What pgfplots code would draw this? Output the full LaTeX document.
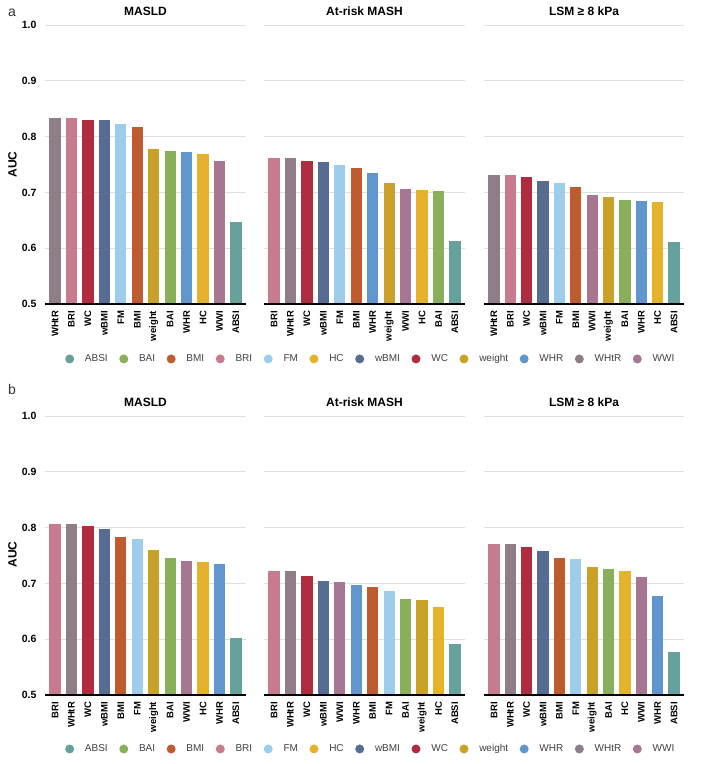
\documentclass[border=0pt]{standalone}
\usepackage{fontspec}
\setmainfont{Liberation Sans}
\usepackage{pgfplots}
\pgfplotsset{compat=1.18}
\definecolor{cABSI}{HTML}{66A19B}
\definecolor{cBAI}{HTML}{8AAF5B}
\definecolor{cBMI}{HTML}{BE5C30}
\definecolor{cBRI}{HTML}{C77B8E}
\definecolor{cFM}{HTML}{9DCDEA}
\definecolor{cHC}{HTML}{E5B22C}
\definecolor{cwBMI}{HTML}{566C93}
\definecolor{cWC}{HTML}{AF2C3F}
\definecolor{cweight}{HTML}{C9A128}
\definecolor{cWHR}{HTML}{6096CD}
\definecolor{cWHtR}{HTML}{8F7D87}
\definecolor{cWWI}{HTML}{A77693}
\pgfplotsset{
  myaxis/.style={
    scale only axis, width=201pt, height=279pt, anchor=south west,
    ymin=0.5, ymax=1.0, xmin=-0.61, xmax=11.61,
    ytick={0.5,0.6,0.7,0.8,0.9,1.0},
    xtick={0,...,11},
    ymajorgrids, grid style={draw=black!12, line width=0.7pt},
    axis line style={draw=none},
    major tick length=0pt, tick style={draw=none},
    /pgf/number format/assume math mode=true,
    xticklabel style={font=\bfseries\fontsize{9.5}{10}\selectfont, yshift=-3.5pt, rotate=90, anchor=east},
    yticklabel style={font=\bfseries\fontsize{10.5}{12}\selectfont, xshift=-5pt,
      /pgf/number format/.cd, fixed, fixed zerofill, precision=1},
    extra description/.code={\draw[line width=1.1pt, black] (0,0) -- (1,0);},
  },
  noylab/.style={yticklabels={,,,,,}},
  mybar/.style={ybar, draw=none, bar width=11.3pt, forget plot},
  mylegend/.style={
    legend columns=12,
    legend image code/.code={\fill[##1, draw=none] (0pt,0pt) circle (4.5pt);},
    legend style={at={(0.531,#1)}, anchor=center, draw=none, fill=none,
      font=\fontsize{10}{12}\selectfont, text=black!75,
      /tikz/every odd column/.append style={column sep=8.8pt},
      /tikz/every even column/.append style={column sep=9.5pt}},
  },
}
\begin{document}
\begin{tikzpicture}
\useasboundingbox (0,0) rectangle (710pt,764pt);
% panel labels
\node[anchor=base west, inner sep=0pt, font=\fontsize{14}{16}\selectfont, text=black!80] at (8pt,747pt) {a};
\node[anchor=base west, inner sep=0pt, font=\fontsize{14}{16}\selectfont, text=black!80] at (8pt,369pt) {b};
% titles
\foreach \yy in {748pt,357.5pt}{
\node[anchor=base, inner sep=0pt, font=\bfseries\fontsize{12}{14}\selectfont] at (145.5pt,\yy) {MASLD};
\node[anchor=base, inner sep=0pt, font=\bfseries\fontsize{12}{14}\selectfont] at (364.5pt,\yy) {At-risk MASH};
\node[anchor=base, inner sep=0pt, font=\bfseries\fontsize{12}{14}\selectfont] at (584pt,\yy) {LSM ≥ 8 kPa};
}
\node[rotate=90, font=\bfseries\fontsize{12}{14}\selectfont] at (12.5pt,599.5pt) {AUC};
\node[rotate=90, font=\bfseries\fontsize{12}{14}\selectfont] at (12.5pt,209.5pt) {AUC};

% ===== Panel a =====
\begin{axis}[myaxis, at={(45pt,460pt)},
  xticklabels={WHtR,BRI,WC,wBMI,FM,BMI,weight,BAI,WHR,HC,WWI,ABSI}]
\addplot[mybar, fill=cWHtR]   coordinates {(0,0.834)};
\addplot[mybar, fill=cBRI]    coordinates {(1,0.834)};
\addplot[mybar, fill=cWC]     coordinates {(2,0.830)};
\addplot[mybar, fill=cwBMI]   coordinates {(3,0.830)};
\addplot[mybar, fill=cFM]     coordinates {(4,0.823)};
\addplot[mybar, fill=cBMI]    coordinates {(5,0.817)};
\addplot[mybar, fill=cweight] coordinates {(6,0.778)};
\addplot[mybar, fill=cBAI]    coordinates {(7,0.775)};
\addplot[mybar, fill=cWHR]    coordinates {(8,0.773)};
\addplot[mybar, fill=cHC]     coordinates {(9,0.769)};
\addplot[mybar, fill=cWWI]    coordinates {(10,0.757)};
\addplot[mybar, fill=cABSI]   coordinates {(11,0.647)};
\end{axis}

\begin{axis}[myaxis, noylab, at={(264pt,460pt)}, mylegend=-0.197,
  xticklabels={BRI,WHtR,WC,wBMI,FM,BMI,WHR,weight,WWI,HC,BAI,ABSI}]
\addlegendimage{fill=cABSI}
\addlegendimage{fill=cBAI}
\addlegendimage{fill=cBMI}
\addlegendimage{fill=cBRI}
\addlegendimage{fill=cFM}
\addlegendimage{fill=cHC}
\addlegendimage{fill=cwBMI}
\addlegendimage{fill=cWC}
\addlegendimage{fill=cweight}
\addlegendimage{fill=cWHR}
\addlegendimage{fill=cWHtR}
\addlegendimage{fill=cWWI}
\addplot[mybar, fill=cBRI]    coordinates {(0,0.762)};
\addplot[mybar, fill=cWHtR]   coordinates {(1,0.762)};
\addplot[mybar, fill=cWC]     coordinates {(2,0.757)};
\addplot[mybar, fill=cwBMI]   coordinates {(3,0.754)};
\addplot[mybar, fill=cFM]     coordinates {(4,0.749)};
\addplot[mybar, fill=cBMI]    coordinates {(5,0.744)};
\addplot[mybar, fill=cWHR]    coordinates {(6,0.734)};
\addplot[mybar, fill=cweight] coordinates {(7,0.717)};
\addplot[mybar, fill=cWWI]    coordinates {(8,0.706)};
\addplot[mybar, fill=cHC]     coordinates {(9,0.704)};
\addplot[mybar, fill=cBAI]    coordinates {(10,0.703)};
\addplot[mybar, fill=cABSI]   coordinates {(11,0.613)};
\legend{ABSI,BAI,BMI,BRI,FM,HC,wBMI,WC,weight,WHR,WHtR,WWI}
\end{axis}

\begin{axis}[myaxis, noylab, at={(484pt,460pt)}, width=200pt,
  xticklabels={WHtR,BRI,WC,wBMI,FM,BMI,WWI,weight,BAI,WHR,HC,ABSI}]
\addplot[mybar, fill=cWHtR]   coordinates {(0,0.732)};
\addplot[mybar, fill=cBRI]    coordinates {(1,0.732)};
\addplot[mybar, fill=cWC]     coordinates {(2,0.728)};
\addplot[mybar, fill=cwBMI]   coordinates {(3,0.720)};
\addplot[mybar, fill=cFM]     coordinates {(4,0.717)};
\addplot[mybar, fill=cBMI]    coordinates {(5,0.709)};
\addplot[mybar, fill=cWWI]    coordinates {(6,0.696)};
\addplot[mybar, fill=cweight] coordinates {(7,0.691)};
\addplot[mybar, fill=cBAI]    coordinates {(8,0.686)};
\addplot[mybar, fill=cWHR]    coordinates {(9,0.685)};
\addplot[mybar, fill=cHC]     coordinates {(10,0.683)};
\addplot[mybar, fill=cABSI]   coordinates {(11,0.611)};
\end{axis}

% ===== Panel b =====
\begin{axis}[myaxis, at={(45pt,69pt)},
  xticklabels={BRI,WHtR,WC,wBMI,BMI,FM,weight,BAI,WWI,HC,WHR,ABSI}]
\addplot[mybar, fill=cBRI]    coordinates {(0,0.807)};
\addplot[mybar, fill=cWHtR]   coordinates {(1,0.807)};
\addplot[mybar, fill=cWC]     coordinates {(2,0.803)};
\addplot[mybar, fill=cwBMI]   coordinates {(3,0.797)};
\addplot[mybar, fill=cBMI]    coordinates {(4,0.783)};
\addplot[mybar, fill=cFM]     coordinates {(5,0.780)};
\addplot[mybar, fill=cweight] coordinates {(6,0.759)};
\addplot[mybar, fill=cBAI]    coordinates {(7,0.745)};
\addplot[mybar, fill=cWWI]    coordinates {(8,0.740)};
\addplot[mybar, fill=cHC]     coordinates {(9,0.739)};
\addplot[mybar, fill=cWHR]    coordinates {(10,0.735)};
\addplot[mybar, fill=cABSI]   coordinates {(11,0.603)};
\end{axis}

\begin{axis}[myaxis, noylab, at={(264pt,69pt)}, mylegend=-0.1935,
  xticklabels={BRI,WHtR,WC,wBMI,WWI,WHR,BMI,FM,BAI,weight,HC,ABSI}]
\addlegendimage{fill=cABSI}
\addlegendimage{fill=cBAI}
\addlegendimage{fill=cBMI}
\addlegendimage{fill=cBRI}
\addlegendimage{fill=cFM}
\addlegendimage{fill=cHC}
\addlegendimage{fill=cwBMI}
\addlegendimage{fill=cWC}
\addlegendimage{fill=cweight}
\addlegendimage{fill=cWHR}
\addlegendimage{fill=cWHtR}
\addlegendimage{fill=cWWI}
\addplot[mybar, fill=cBRI]    coordinates {(0,0.722)};
\addplot[mybar, fill=cWHtR]   coordinates {(1,0.722)};
\addplot[mybar, fill=cWC]     coordinates {(2,0.714)};
\addplot[mybar, fill=cwBMI]   coordinates {(3,0.705)};
\addplot[mybar, fill=cWWI]    coordinates {(4,0.702)};
\addplot[mybar, fill=cWHR]    coordinates {(5,0.698)};
\addplot[mybar, fill=cBMI]    coordinates {(6,0.694)};
\addplot[mybar, fill=cFM]     coordinates {(7,0.687)};
\addplot[mybar, fill=cBAI]    coordinates {(8,0.672)};
\addplot[mybar, fill=cweight] coordinates {(9,0.670)};
\addplot[mybar, fill=cHC]     coordinates {(10,0.658)};
\addplot[mybar, fill=cABSI]   coordinates {(11,0.592)};
\legend{ABSI,BAI,BMI,BRI,FM,HC,wBMI,WC,weight,WHR,WHtR,WWI}
\end{axis}

\begin{axis}[myaxis, noylab, at={(484pt,69pt)}, width=200pt,
  xticklabels={BRI,WHtR,WC,wBMI,BMI,FM,weight,BAI,HC,WWI,WHR,ABSI}]
\addplot[mybar, fill=cBRI]    coordinates {(0,0.770)};
\addplot[mybar, fill=cWHtR]   coordinates {(1,0.770)};
\addplot[mybar, fill=cWC]     coordinates {(2,0.766)};
\addplot[mybar, fill=cwBMI]   coordinates {(3,0.758)};
\addplot[mybar, fill=cBMI]    coordinates {(4,0.746)};
\addplot[mybar, fill=cFM]     coordinates {(5,0.744)};
\addplot[mybar, fill=cweight] coordinates {(6,0.730)};
\addplot[mybar, fill=cBAI]    coordinates {(7,0.725)};
\addplot[mybar, fill=cHC]     coordinates {(8,0.722)};
\addplot[mybar, fill=cWWI]    coordinates {(9,0.712)};
\addplot[mybar, fill=cWHR]    coordinates {(10,0.678)};
\addplot[mybar, fill=cABSI]   coordinates {(11,0.577)};
\end{axis}
\end{tikzpicture}
\end{document}
